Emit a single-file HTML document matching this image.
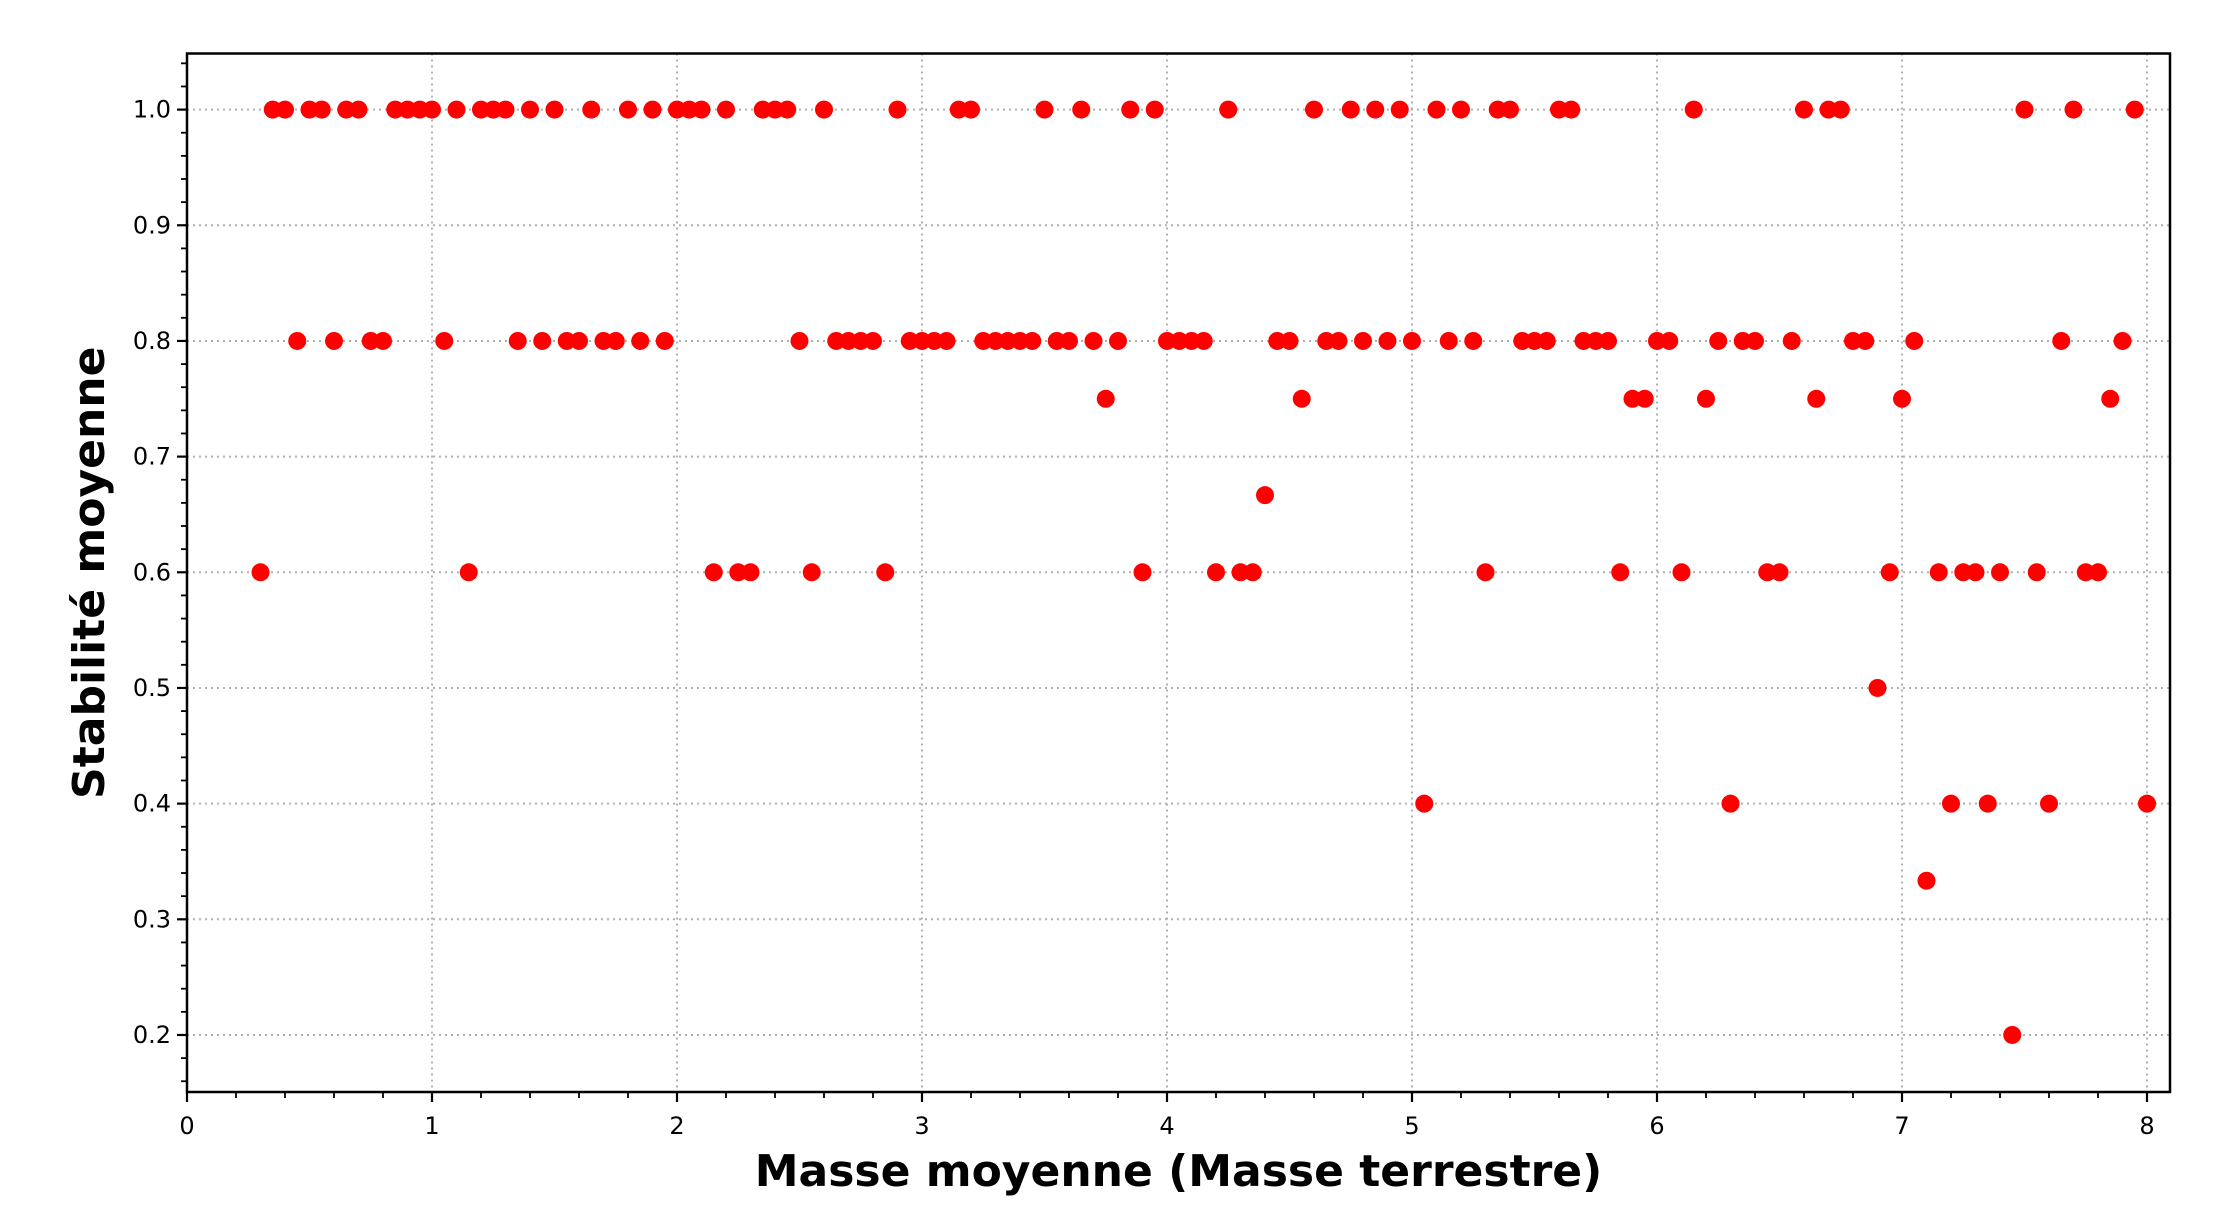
<!DOCTYPE html>
<html><head><meta charset="utf-8"><style>
html,body{margin:0;padding:0;background:#fff;}
svg{display:block;font-family:"DejaVu Sans","Liberation Sans",sans-serif;}
</style></head><body>
<svg id="chart" width="2234" height="1216" viewBox="0 0 2234 1216" xmlns="http://www.w3.org/2000/svg"></svg>
<script>
const xs1 = [0.35,0.40,0.50,0.55,0.65,0.70,0.85,0.90,0.95,1.00,1.10,1.20,1.25,1.30,1.40,1.50,1.65,1.80,1.90,2.00,2.05,2.10,2.20,2.35,2.40,2.45,2.60,2.90,3.15,3.20,3.50,3.65,3.85,3.95,4.25,4.60,4.75,4.85,4.95,5.10,5.20,5.35,5.40,5.60,5.65,6.15,6.60,6.70,6.75,7.50,7.70,7.95];
const xs08 = [0.45,0.60,0.75,0.80,1.05,1.35,1.45,1.55,1.60,1.70,1.75,1.85,1.95,2.50,2.65,2.70,2.75,2.80,2.95,3.00,3.05,3.10,3.25,3.30,3.35,3.40,3.45,3.55,3.60,3.70,3.80,4.00,4.05,4.10,4.15,4.45,4.50,4.65,4.70,4.80,4.90,5.00,5.15,5.25,5.45,5.50,5.55,5.70,5.75,5.80,6.00,6.05,6.25,6.35,6.40,6.55,6.80,6.85,7.05,7.65,7.90];
const xs075 = [3.75,4.55,5.90,5.95,6.20,6.65,7.00,7.85];
const xs0667 = [4.40];
const xs06 = [0.30,1.15,2.15,2.25,2.30,2.55,2.85,3.90,4.20,4.30,4.35,5.30,5.85,6.10,6.45,6.50,6.95,7.15,7.25,7.30,7.40,7.55,7.75,7.80];
const xs05 = [6.90];
const xs04 = [5.05,6.30,7.20,7.35,7.60,8.00];
const xs0333 = [7.10];
const xs02 = [7.45];
const xTicks = [0,1,2,3,4,5,6,7,8];
const yTicks = [0.2,0.3,0.4,0.5,0.6,0.7,0.8,0.9,1.0];
const yTickLabels = ["0.2","0.3","0.4","0.5","0.6","0.7","0.8","0.9","1.0"];

const L=187, R=2170, T=53.5, B=1092;
const xMin=0, xMax=(R-L)/245;
const yMin=0.1507, yMax=1.0485;
const sx=v=>L+(v-xMin)/(xMax-xMin)*(R-L);
const sy=v=>B-(v-yMin)/(yMax-yMin)*(B-T);
const svg=document.getElementById('chart');
const NS='http://www.w3.org/2000/svg';
function mk(tag,attrs,parent){const e=document.createElementNS(NS,tag);for(const k in attrs)e.setAttribute(k,attrs[k]);(parent||svg).appendChild(e);return e;}

const grid=mk('g',{});


xTicks.forEach(v=>{const l=mk('line',{x1:sx(v),x2:sx(v),y1:T,y2:B,stroke:'#b0b0b0','stroke-width':2,'stroke-dasharray':'2,4'},grid);

});
yTicks.forEach(v=>{const l=mk('line',{x1:L,x2:R,y1:sy(v),y2:sy(v),stroke:'#b0b0b0','stroke-width':2,'stroke-dasharray':'2,4'},grid);

});

const pts=mk('g',{fill:'#ff0000'});


const series=[[xs1,1.0],[xs08,0.8],[xs075,0.75],[xs0667,2/3],[xs06,0.6],[xs05,0.5],[xs04,0.4],[xs0333,1/3],[xs02,0.2]];
series.forEach(([arr,y])=>arr.forEach(x=>{const c=mk('circle',{cx:sx(x),cy:sy(y),r:9},pts);

}));

const ax=mk('g',{stroke:'#000'});


mk('rect',{x:L,y:T,width:R-L,height:B-T,fill:'none','stroke-width':2.5},ax);
for(let v=0;v<=8.0001;v+=0.2){const major=Math.abs(v-Math.round(v))<1e-6;mk('line',{x1:sx(v),x2:sx(v),y1:B,y2:B+(major?10:6),'stroke-width':major?2.2:1.8},ax);}
for(let i=8;i<=52;i++){const v=i/50;if(v<yMin||v>yMax)continue;const major=i%5==0;mk('line',{x1:L,x2:L-(major?10:6),y1:sy(v),y2:sy(v),'stroke-width':major?2.2:1.8},ax);}

const tl=mk('g',{fill:'#000','font-size':24});


xTicks.forEach(v=>{const t=mk('text',{x:sx(v),y:B+42,'text-anchor':'middle'},tl);t.textContent=String(v);

});
yTicks.forEach((v,i)=>{const t=mk('text',{x:L-16,y:sy(v)+8,'text-anchor':'end'},tl);t.textContent=yTickLabels[i];

});

const xl=mk('text',{x:(L+R)/2,y:1186,'text-anchor':'middle','font-size':44,'font-weight':'bold',fill:'#000'});
xl.textContent='Masse moyenne (Masse terrestre)';


const yl=mk('text',{x:0,y:0,'text-anchor':'middle','font-size':44,'font-weight':'bold',fill:'#000',transform:`translate(104,${(T+B)/2}) rotate(-90)`});
yl.textContent='Stabilité moyenne';


</script>
</body></html>
